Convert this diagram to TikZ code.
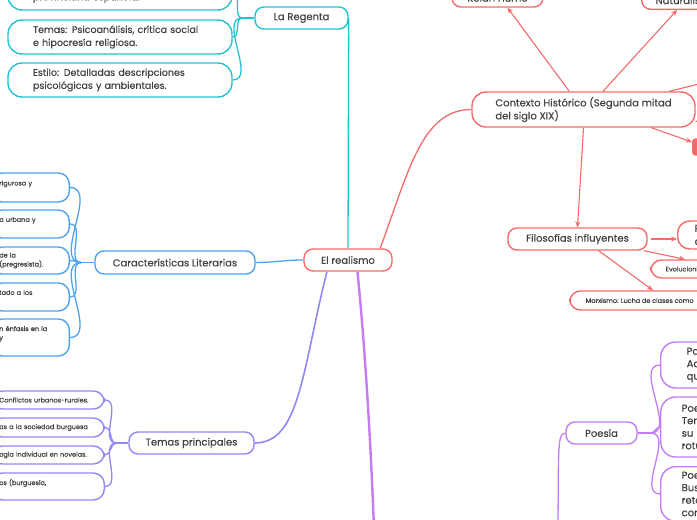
\documentclass[tikz,border=0pt]{standalone}
\usepackage{fontspec}
\setmainfont{Poppins}[FakeBold=0.35]
\usetikzlibrary{arrows.meta,calc}
\definecolor{rmcoral}{HTML}{F46A6A}
\definecolor{rmteal}{HTML}{22C3D1}
\definecolor{rmblue}{HTML}{4DA3F2}
\definecolor{rmiris}{HTML}{8F88F6}
\definecolor{rmviolet}{HTML}{C47CF2}
\definecolor{rmink}{HTML}{414141}

\begin{document}
\begin{tikzpicture}[x=1pt,y=1pt,
  t/.style={draw=#1,line width=1.4pt,rounded corners=9pt,fill=white,text=rmink,
    font=\fontsize{10}{13}\selectfont,inner sep=0pt},
  tl/.style={t=#1,align=left,text width=174pt,inner xsep=25pt,rounded corners=14pt,font=\fontsize{9.5}{13}\selectfont},
  lf/.style={t=#1,align=left,inner xsep=8pt,rounded corners=11pt,font=\fontsize{6.5}{9}\selectfont},
  ln/.style={draw=#1,line width=1.3pt},
  arr/.style={-{Stealth[length=6pt,width=5pt]},rmcoral,line width=1.1pt}]
  \useasboundingbox (0,0) rectangle (697,-520);
  \clip (0,0) rectangle (697,-520);
  % centro
  \node[t=rmcoral,minimum width=88pt,minimum height=22pt] (root) at (348,-260) {El realismo};
  % La Regenta
  \node[t=rmteal,minimum width=93pt,minimum height=22pt] (regenta) at (301.5,-18) {La Regenta};
  \node[tl=rmteal,minimum height=30pt] (r1) at (120,5) {\mbox{}\\provinciana española.};
  \node[tl=rmteal,minimum height=34pt] (r2) at (120,-37) {Temas: Psicoanálisis, crítica social\\e hipocresía religiosa.};
  \node[tl=rmteal,minimum height=34pt] (r3) at (120,-80) {Estilo: Detalladas descripciones\\psicológicas y ambientales.};
  \draw[ln=rmteal] (root.north) -- (regenta.east);
  \draw[ln=rmteal] (regenta.west) -- ++(-12,0) coordinate (jr);
  \foreach \n in {r1,r2,r3} \draw[ln=rmteal] (jr) to[out=180,in=0] (\n.east);
  % Caracteristicas
  \node[t=rmblue,minimum width=160pt,minimum height=23pt] (car) at (175,-262.5) {Características Literarias};
  \draw[ln=rmblue] (root.west) to[out=180,in=0] (car.east);
  \node[lf=rmblue,anchor=east,text width=62pt,minimum height=29pt] (c1) at (70,-187.5) {rigurosa y\\\mbox{}};
  \node[lf=rmblue,anchor=east,text width=62pt,minimum height=28pt] (c2) at (70,-224) {a urbana y\\\mbox{}};
  \node[lf=rmblue,anchor=east,text width=62pt,minimum height=27pt] (c3) at (70,-260.5) {de la\\(pregresista).};
  \node[lf=rmblue,anchor=east,text width=62pt,minimum height=28pt] (c4) at (70,-297) {tado a los\\\mbox{}};
  \node[lf=rmblue,anchor=east,text width=62pt,minimum height=37pt] (c5) at (70,-337.5) {n énfasis en la\\y\\\mbox{}};
  \draw[ln=rmblue] (car.west) -- ++(-13,0) coordinate (jc);
  \foreach \n in {c1,c2,c3,c4,c5} \draw[ln=rmblue] (jc) to[out=180,in=0] (\n.east);
  % Temas
  \node[t=rmiris,minimum width=125pt,minimum height=22pt] (tem) at (191.5,-443) {Temas principales};
  \draw[ln=rmiris,line width=1.6pt] (root.209) .. controls +(-25,-100) and +(45,0) .. (tem.east);
  \node[lf=rmiris,anchor=east,text width=97pt,minimum height=18pt] (t1) at (105,-400) {Conflictos urbanos-rurales.};
  \node[lf=rmiris,anchor=east,text width=97pt,minimum height=19pt] (t2) at (105,-427.5) {as a la sociedad burguesa};
  \node[lf=rmiris,anchor=east,text width=97pt,minimum height=18pt] (t3) at (105,-455) {ogía individual en novelas.};
  \node[lf=rmiris,anchor=east,text width=97pt,minimum height=27pt] (t4) at (105,-486.5) {os (burguesía,\\\mbox{}};
  \draw[ln=rmiris] (tem.west) -- ++(-12,0) coordinate (jt);
  \foreach \n in {t1,t2,t3,t4} \draw[ln=rmiris] (jt) to[out=180,in=0] (\n.east);
  % Poesia
  \coordinate (tr) at (375,-560);
  \draw[ln=rmviolet,line width=2.4pt] (root.-51) .. controls +(8,-80) and +(-3,100) .. (tr);
  \node[t=rmviolet,minimum width=71pt,minimum height=22pt] (poe) at (601.5,-433) {Poesía};
  \coordinate (pb) at (557,-570);
  \draw[ln=rmviolet] (pb) .. controls +(3,110) and +(-10,0) .. (poe.west);
  \node[t=rmviolet,anchor=west,align=left,text width=60pt,inner xsep=26pt,minimum height=46pt,rounded corners=15pt,font=\fontsize{10}{12.5}\selectfont] (p1) at (660,-365) {Po\\Ad\\qu};
  \node[t=rmviolet,anchor=west,align=left,text width=60pt,inner xsep=21pt,minimum height=60pt,rounded corners=15pt,font=\fontsize{10}{12.5}\selectfont] (p2) at (660,-427) {Poe\\Tem\\su p\\rotu};
  \node[t=rmviolet,anchor=north west,align=left,text width=60pt,inner xsep=21pt,inner ysep=5pt,rounded corners=15pt,font=\fontsize{10}{12.5}\selectfont] (p3) at (660,-466) {Poe\\Bus\\retó\\com};
  \draw[ln=rmviolet] (poe.east) -- ++(13,0) coordinate (jp);
  \foreach \n in {p1,p2,p3} \draw[ln=rmviolet] (jp) to[out=0,in=180] (\n.west);
  % Contexto
  \node[t=rmcoral,align=left,minimum width=223pt,minimum height=35pt,rounded corners=14pt] (ctx) at (583.5,-109.5) {Contexto Histórico (Segunda mitad\\del siglo XIX)};
  \draw[ln=rmcoral] (root.20) .. controls +(28,75) and +(-50,0) .. (ctx.west);
  \node[t=rmcoral,minimum width=91pt,minimum height=18pt] (hm) at (497.5,2) {Kelan Hume};
  \node[t=rmcoral,anchor=south west,align=left,inner xsep=14pt,minimum height=18pt] (nat) at (641,-10) {Naturalismo};
  \draw[arr] (ctx.128) -- ($(hm.south)+(10,0)$);
  \draw[arr] (ctx.43) -- ($(nat.south west)+(36,0)$);
  \coordinate (ne) at (740,-74);
  \coordinate (ee) at (740,-121);
  \draw[arr] (ctx.12) -- (ne);
  \draw[arr] (ctx.-6) -- (ee);
  \node[t=rmcoral,fill=rmcoral,anchor=west,minimum width=50pt,minimum height=16pt,rounded corners=3pt] (rb) at (692,-147) {};
  \draw[arr] (ctx.-15.4) -- ($(rb.west)+(0,5)$);
  % Filosofias
  \node[t=rmcoral,minimum width=139pt,minimum height=22pt] (fil) at (577.5,-239) {Filosofías influyentes};
  \draw[arr] (ctx.south) -- (fil.north);
  \node[t=rmcoral,anchor=west,align=left,inner xsep=17pt,minimum height=28pt,rounded corners=12pt] (pn) at (677,-235) {P\\c};
  \node[lf=rmcoral,anchor=west,inner xsep=15pt,minimum height=18pt] (evo) at (650,-269) {Evolucionismo};
  \node[lf=rmcoral,anchor=west,inner xsep=16pt,minimum height=19pt] (mar) at (569,-300.5) {Marxismo: Lucha de clases como};
  \draw[arr,shorten <=3pt] (fil.east) -- (pn.west |- fil.east);
  \draw[arr] (fil.-10) -- ($(evo.north west)+(35,0)$);
  \draw[arr] (fil.-29) -- ($(mar.north west)+(84,0)$);
\end{tikzpicture}
\end{document}
